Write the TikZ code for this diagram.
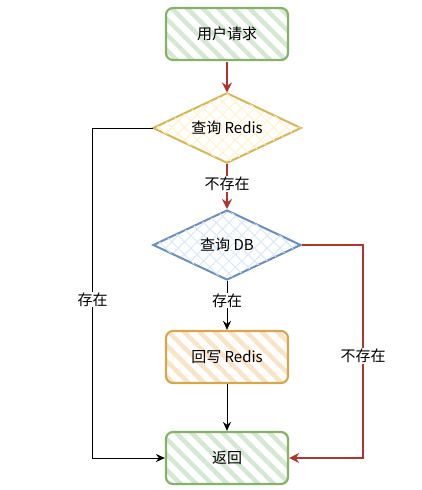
\documentclass[tikz,border=0pt]{standalone}
\usepackage{fontspec}
\setmainfont{Noto Sans CJK SC}
\usetikzlibrary{shapes.geometric,arrows.meta,patterns.meta}
\definecolor{grnline}{HTML}{82B366}
\definecolor{grnfill}{HTML}{D5E8D4}
\definecolor{orgline}{HTML}{D6A84E}
\definecolor{orgfill}{HTML}{FBE3C8}
\definecolor{yelline}{HTML}{D6B656}
\definecolor{yelfill}{HTML}{FFF2CC}
\definecolor{bluline}{HTML}{6C8EBF}
\definecolor{blufill}{HTML}{DAE8FC}
\definecolor{redline}{HTML}{B5332E}
\begin{document}
\begin{tikzpicture}[x=1pt,y=-1pt,font=\fontsize{15}{18}\selectfont,
    box/.style={rectangle,rounded corners=7pt,line width=2.2pt,
        minimum width=122pt,minimum height=52pt,inner sep=0pt},
    dia/.style={diamond,aspect=2.1,line width=2pt,
        minimum width=148pt,minimum height=70pt,inner sep=0pt},
    stripes/.style={draw=#1line,preaction={fill=white},
        pattern={Lines[angle=-45,distance=11pt,line width=4.5pt]},pattern color=#1fill},
    cross/.style={draw=#1line,preaction={fill=white},
        pattern={Lines[angle=45,distance=9pt,line width=1pt]},pattern color=#1fill,
        postaction={pattern={Lines[angle=-45,distance=9pt,line width=1pt]},pattern color=#1fill}},
    lbl/.style={fill=white,inner sep=1pt},
    redarr/.style={draw=redline,line width=2.4pt,-{Stealth[length=10pt,width=10pt]}},
    blkarr/.style={draw=black,line width=1pt,-{Stealth[length=9pt,width=8pt]}}]
\useasboundingbox (0,0) rectangle (422,490);
% steps
\node[box,stripes=grn] (req) at (227,34) {用户请求};
\node[dia,cross=yel] (redis) at (227,128) {查询 Redis};
\node[dia,cross=blu] (db) at (227,245) {查询 DB};
\node[box,stripes=org] (back) at (227,357) {回写 Redis};
\node[box,stripes=grn] (ret) at (227,458) {返回};
% arrows
\draw[redarr] (req) -- (redis);
\draw[redarr] (redis) -- node[lbl,pos=0.45]{不存在} (db);
\draw[blkarr] (db) -- node[lbl,pos=0.4]{存在} (back);
\draw[blkarr] (back) -- (ret);
\draw[blkarr] (redis.west) -- ++(-60,0) |- node[lbl,pos=0.26]{存在} (ret.west);
\draw[redarr] (db.east) -- ++(61,0) |- node[lbl,pos=0.26]{不存在} (ret.east);
\end{tikzpicture}
\end{document}
